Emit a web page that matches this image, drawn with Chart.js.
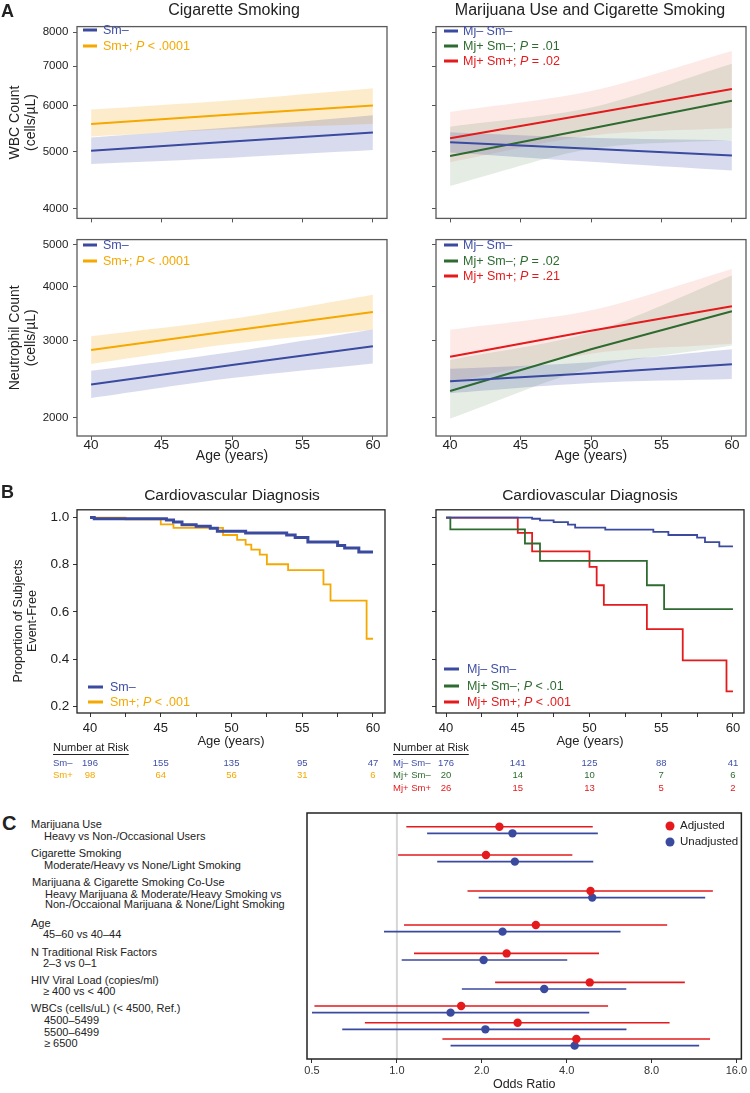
<!DOCTYPE html>
<html><head><meta charset="utf-8">
<script src="https://cdn.jsdelivr.net/npm/chart.js@4.4.1/dist/chart.umd.min.js"></script>
<style>
html,body{margin:0;padding:0;background:#fff;}
#page{position:relative;width:750px;height:1093px;overflow:hidden;font-family:"Liberation Sans",Arial,Helvetica,sans-serif;color:#222;}
canvas{position:absolute;}
.t{position:absolute;white-space:nowrap;line-height:1;transform:translateY(-50%);}
.c{transform:translate(-50%,-50%);}
.b{font-weight:bold;}
.lg{position:absolute;white-space:nowrap;line-height:1;transform:translateY(-50%);font-size:12.5px;}
.sw{position:absolute;height:3px;transform:translateY(-50%);}
.fl{position:absolute;white-space:nowrap;line-height:1;transform:translateY(-50%);font-size:11px;color:#222;}
.dot{position:absolute;width:9px;height:9px;border-radius:50%;transform:translate(-50%,-50%);}
i{font-style:italic;}
</style></head><body><div id="page">
<canvas id="cA1"></canvas><canvas id="cA2"></canvas><canvas id="cA3"></canvas><canvas id="cA4"></canvas>
<canvas id="cB1"></canvas><canvas id="cB2"></canvas><canvas id="cC"></canvas>

<div class="t b" style="left:1px;top:11px;font-size:18px">A</div>
<div class="t c" style="left:234px;top:10px;font-size:16px">Cigarette Smoking</div>
<div class="t c" style="left:590px;top:10px;font-size:16px">Marijuana Use and Cigarette Smoking</div>

<div class="sw" style="left:83px;top:30px;width:14px;background:#3a4a9f"></div>
<div class="lg" style="left:103px;top:30px;color:#3f4fa5">Sm–</div>
<div class="sw" style="left:83px;top:45.5px;width:14px;background:#f5a800"></div>
<div class="lg" style="left:103px;top:45.5px;color:#f5a800">Sm+; <i>P</i> &lt; .0001</div>

<div class="sw" style="left:444px;top:31px;width:14px;background:#3a4a9f"></div>
<div class="lg" style="left:463px;top:31px;color:#3f4fa5">Mj– Sm–</div>
<div class="sw" style="left:444px;top:46px;width:14px;background:#2e6b30"></div>
<div class="lg" style="left:463px;top:46px;color:#2e6b30">Mj+ Sm–; <i>P</i> = .01</div>
<div class="sw" style="left:444px;top:61px;width:14px;background:#e41a1c"></div>
<div class="lg" style="left:463px;top:61px;color:#e41a1c">Mj+ Sm+; <i>P</i> = .02</div>

<div class="sw" style="left:83px;top:245px;width:14px;background:#3a4a9f"></div>
<div class="lg" style="left:103px;top:245px;color:#3f4fa5">Sm–</div>
<div class="sw" style="left:83px;top:260.5px;width:14px;background:#f5a800"></div>
<div class="lg" style="left:103px;top:260.5px;color:#f5a800">Sm+; <i>P</i> &lt; .0001</div>

<div class="sw" style="left:444px;top:245px;width:14px;background:#3a4a9f"></div>
<div class="lg" style="left:463px;top:245px;color:#3f4fa5">Mj– Sm–</div>
<div class="sw" style="left:444px;top:260.5px;width:14px;background:#2e6b30"></div>
<div class="lg" style="left:463px;top:260.5px;color:#2e6b30">Mj+ Sm–; <i>P</i> = .02</div>
<div class="sw" style="left:444px;top:276px;width:14px;background:#e41a1c"></div>
<div class="lg" style="left:463px;top:276px;color:#e41a1c">Mj+ Sm+; <i>P</i> = .21</div>

<div class="t b" style="left:1px;top:492px;font-size:18px">B</div>
<div class="t c" style="left:232px;top:495px;font-size:15.5px">Cardiovascular Diagnosis</div>
<div class="t c" style="left:590px;top:495px;font-size:15.5px">Cardiovascular Diagnosis</div>
<div style="position:absolute;left:25px;top:621px;transform:translate(-50%,-50%) rotate(-90deg);white-space:nowrap;text-align:center;font-size:12.5px;line-height:13.5px;">Proportion of Subjects<br>Event-Free</div>

<div class="sw" style="left:88px;top:687px;width:15px;background:#3a4a9f"></div>
<div class="lg" style="left:110px;top:687px;color:#3f4fa5">Sm–</div>
<div class="sw" style="left:88px;top:702px;width:15px;background:#f5a800"></div>
<div class="lg" style="left:110px;top:702px;color:#f5a800">Sm+; <i>P</i> &lt; .001</div>

<div class="sw" style="left:444px;top:669px;width:15px;background:#3a4a9f"></div>
<div class="lg" style="left:467px;top:669px;color:#3f4fa5">Mj– Sm–</div>
<div class="sw" style="left:444px;top:686px;width:15px;background:#2e6b30"></div>
<div class="lg" style="left:467px;top:686px;color:#2e6b30">Mj+ Sm–; <i>P</i> &lt; .01</div>
<div class="sw" style="left:444px;top:702px;width:15px;background:#e41a1c"></div>
<div class="lg" style="left:467px;top:702px;color:#e41a1c">Mj+ Sm+; <i>P</i> &lt; .001</div>

<div class="t b" style="left:2px;top:823px;font-size:20px">C</div>
<div class="fl" style="left:31px;top:824px">Marijuana Use</div>
<div class="fl" style="left:44px;top:835.7px">Heavy vs Non-/Occasional Users</div>
<div class="fl" style="left:31px;top:853.3px">Cigarette Smoking</div>
<div class="fl" style="left:44px;top:864.7px">Moderate/Heavy vs None/Light Smoking</div>
<div class="fl" style="left:32px;top:882.3px">Marijuana &amp; Cigarette Smoking Co-Use</div>
<div class="fl" style="left:45px;top:894px">Heavy Marijuana &amp; Moderate/Heavy Smoking vs</div>
<div class="fl" style="left:45px;top:904px">Non-/Occaional Marijuana &amp; None/Light Smoking</div>
<div class="fl" style="left:31px;top:923.3px">Age</div>
<div class="fl" style="left:43px;top:934.3px">45–60 vs 40–44</div>
<div class="fl" style="left:31px;top:951.7px">N Traditional Risk Factors</div>
<div class="fl" style="left:43px;top:962.7px">2–3 vs 0–1</div>
<div class="fl" style="left:31px;top:980px">HIV Viral Load (copies/ml)</div>
<div class="fl" style="left:43px;top:991px">≥ 400 vs &lt; 400</div>
<div class="fl" style="left:31px;top:1008.3px">WBCs (cells/uL) (&lt; 4500, Ref.)</div>
<div class="fl" style="left:44px;top:1020px">4500–5499</div>
<div class="fl" style="left:44px;top:1031.7px">5500–6499</div>
<div class="fl" style="left:44px;top:1043.3px">≥ 6500</div>

<div class="dot" style="left:670px;top:826px;background:#e41a1c"></div>
<div class="fl" style="left:680px;top:826px;font-size:11.5px">Adjusted</div>
<div class="dot" style="left:670px;top:841.5px;background:#3a4a9f"></div>
<div class="fl" style="left:680px;top:841.5px;font-size:11.5px">Unadjusted</div>
</div>
<script>
// ================= DATA =================
const ageGrid = [40, 50, 60];
const ageTicksA = [40, 45, 50, 55, 60];
const wbcTicks = [4000, 5000, 6000, 7000, 8000];
const neuTicks = [2000, 3000, 4000, 5000];

// Panel A: WBC count (cells/uL), fitted line and 95% band at ages 40/50/60
const wbcSmNeg   = [5020, 5208, 5395];
const wbcSmNegHi = [5292, 5506, 5774];
const wbcSmNegLo = [4768, 4888, 5036];
const wbcSmPos   = [5580, 5790, 6000];
const wbcSmPosHi = [5905, 6126, 6420];
const wbcSmPosLo = [5313, 5472, 5580];
const wbcMjNegSmNeg   = [5194, 5060, 4930];
const wbcMjNegSmNegHi = [5400, 5285, 5230];
const wbcMjNegSmNegLo = [4990, 4810, 4646];
const wbcMjPosSmNeg   = [4920, 5480, 6110];
const wbcMjPosSmNegHi = [5521, 5950, 7069];
const wbcMjPosSmNegLo = [4374, 5060, 5239];
const wbcMjPosSmPos   = [5275, 5810, 6403];
const wbcMjPosSmPosHi = [5850, 6350, 7433];
const wbcMjPosSmPosLo = [4800, 5330, 5490];

// Panel A: neutrophil count (cells/uL)
const neuSmNeg   = [2380, 2639, 2917];
const neuSmNegHi = [2559, 2829, 3185];
const neuSmNegLo = [2215, 2463, 2662];
const neuSmPos   = [2858, 3165, 3496];
const neuSmPosHi = [3072, 3372, 3832];
const neuSmPosLo = [2655, 2953, 3181];
const neuMjNegSmNeg   = [2422, 2528, 2649];
const neuMjNegSmNegHi = [2587, 2680, 2869];
const neuMjNegSmNegLo = [2274, 2400, 2450];
const neuMjPosSmNeg   = [2300, 2870, 3510];
const neuMjPosSmNegHi = [2710, 3138, 4242];
const neuMjPosSmNegLo = [1987, 2594, 2927];
const neuMjPosSmPos   = [2757, 3165, 3602];
const neuMjPosSmPosHi = [3181, 3528, 4392];
const neuMjPosSmPosLo = [2400, 2803, 2953];

// Panel B: Kaplan-Meier event-free proportion (age, survival)
const kmTicks = [40, 42.5, 45, 47.5, 50, 52.5, 55, 57.5, 60];
const kmYTicks = [0.2, 0.4, 0.6, 0.8, 1.0];
const kmSmNegT = [40, 40.3, 45.4, 45.9, 46.5, 47.5, 48.5, 49.0, 51.0, 53.9, 54.5, 55.4, 57.5, 58.0, 59.0, 60.0];
const kmSmNegS = [1.0, 0.995, 0.99, 0.981, 0.97, 0.963, 0.955, 0.942, 0.935, 0.926, 0.915, 0.896, 0.882, 0.871, 0.854, 0.854];
const kmSmPosT = [40, 42.5, 45.0, 45.9, 49.4, 50.4, 51.0, 51.4, 52.0, 52.5, 54.0, 56.5, 57.0, 59.55, 60.0];
const kmSmPosS = [1.0, 0.992, 0.971, 0.956, 0.926, 0.905, 0.885, 0.864, 0.843, 0.802, 0.777, 0.717, 0.648, 0.486, 0.486];
const kmMjNegSmNegT = [40, 46.0, 46.55, 47.5, 48.5, 49.0, 51.1, 54.45, 55.5, 57.5, 58.05, 59.05, 60.0];
const kmMjNegSmNegS = [1.0, 0.995, 0.988, 0.981, 0.97, 0.957, 0.949, 0.939, 0.926, 0.915, 0.896, 0.878, 0.878];
const kmMjPosSmNegT = [40, 40.3, 45.5, 46.55, 54.0, 55.2, 60.0];
const kmMjPosSmNegS = [1.0, 0.95, 0.89, 0.816, 0.713, 0.612, 0.612];
const kmMjPosSmPosT = [40, 45.0, 46.0, 50.0, 50.5, 51.0, 54.0, 56.5, 59.55, 60.0];
const kmMjPosSmPosS = [1.0, 0.935, 0.857, 0.791, 0.713, 0.63, 0.527, 0.394, 0.263, 0.263];

// Number at risk
const riskAges = [40, 45, 50, 55, 60];
const riskSmNeg = [196, 155, 135, 95, 47];
const riskSmPos = [98, 64, 56, 31, 6];
const riskMjNegSmNeg = [176, 141, 125, 88, 41];
const riskMjPosSmNeg = [20, 14, 10, 7, 6];
const riskMjPosSmPos = [26, 15, 13, 5, 2];

// Panel C: odds ratios
const orTicks = [0.5, 1, 2, 4, 8, 16];
const orAdj     = [2.31, 2.07, 4.86, 3.11, 2.45, 4.83, 1.69, 2.68, 4.33];
const orAdjLo   = [1.08, 1.01, 1.78, 1.06, 1.15, 2.23, 0.51, 0.77, 1.45];
const orAdjHi   = [4.95, 4.19, 13.2, 9.09, 5.21, 10.5, 5.61, 9.27, 12.9];
const orUnadj   = [2.57, 2.62, 4.93, 2.37, 2.03, 3.33, 1.55, 2.06, 4.27];
const orUnadjLo = [1.28, 1.39, 1.95, 0.90, 1.04, 1.70, 0.50, 0.64, 1.55];
const orUnadjHi = [5.16, 4.97, 12.4, 6.21, 4.02, 6.51, 4.81, 6.52, 11.8];

// ================= LAYOUT / STYLE =================
const FONT = '"Liberation Sans", Arial, Helvetica, sans-serif';
Chart.defaults.font.family = FONT;
Chart.defaults.color = '#222';
const COL = {blue:'#3a4a9f', orange:'#f5a800', green:'#2e6b30', red:'#e41a1c'};
const TXT = {blue:'#3f4fa5', orange:'#f5a800', green:'#2e6b30', red:'#e41a1c'};
const BAND = {blue:'rgba(60,74,165,0.2)', orange:'rgba(248,170,20,0.22)', green:'rgba(46,107,48,0.13)', red:'rgba(240,90,70,0.13)'};
// vertical slot of each odds-ratio comparison (row units) and adjusted/unadjusted offset
const forestRows = [1, 2.068, 3.426, 4.709, 5.781, 6.875, 7.766, 8.396, 9.011];
const pairOffset = 0.125;

const framePlugin = {
  id: 'frame',
  afterDatasetsDraw(chart, args, o) {
    const {ctx, chartArea: a} = chart;
    ctx.save(); ctx.strokeStyle = o.color || '#555'; ctx.lineWidth = o.width || 1;
    ctx.strokeRect(a.left, a.top, a.right - a.left, a.bottom - a.top);
    ctx.restore();
  }
};
const refLinePlugin = {
  id: 'refLine',
  beforeDatasetsDraw(chart, args, o) {
    if (o.value === undefined) return;
    const {ctx, chartArea: a} = chart;
    const x = chart.scales.x.getPixelForValue(o.value);
    ctx.save(); ctx.strokeStyle = o.color; ctx.lineWidth = o.width;
    ctx.beginPath(); ctx.moveTo(x, a.top); ctx.lineTo(x, a.bottom); ctx.stroke(); ctx.restore();
  }
};
const riskPlugin = {
  id: 'risk',
  afterDraw(chart, args, o) {
    if (!o.rows) return;
    const ctx = chart.ctx, xs = chart.scales.x;
    ctx.save();
    ctx.textBaseline = 'middle';
    ctx.font = '11px ' + FONT; ctx.fillStyle = '#222'; ctx.textAlign = 'left';
    const hx = o.labelX - o.ox, hy = o.headerY - o.oy;
    ctx.fillText('Number at Risk', hx, hy);
    ctx.fillRect(hx, hy + 6, ctx.measureText('Number at Risk').width, 1);
    ctx.font = '9.5px ' + FONT;
    o.rows.forEach(r => {
      ctx.fillStyle = r.color; ctx.textAlign = 'left';
      ctx.fillText(r.label, hx, r.y - o.oy);
      ctx.textAlign = 'center';
      riskAges.forEach((a, j) => ctx.fillText(String(r.values[j]), xs.getPixelForValue(a), r.y - o.oy));
    });
    ctx.restore();
  }
};
Chart.register(framePlugin, refLinePlugin, riskPlugin);

function build(id, box, plot, xH, config) {
  const cv = document.getElementById(id);
  cv.width = box.w; cv.height = box.h;
  Object.assign(cv.style, {left: box.x + 'px', top: box.y + 'px', width: box.w + 'px', height: box.h + 'px'});
  const o = config.options;
  o.responsive = false; o.animation = false; o.devicePixelRatio = 1;
  o.layout = {padding: {left: 0, top: plot.t - box.y, right: box.x + box.w - plot.r, bottom: box.y + box.h - plot.b - xH}};
  o.scales.x.afterFit = s => { s.height = xH; };
  o.scales.y.afterFit = s => { s.width = plot.l - box.x; };
  o.plugins = Object.assign({legend: {display: false}, tooltip: {enabled: false}}, o.plugins || {});
  return new Chart(cv, config);
}
const pts = (xs, ys) => xs.map((x, i) => ({x, y: ys[i]}));
const tickGrid = c => ({drawOnChartArea: false, drawTicks: true, tickLength: 4, tickColor: c, tickWidth: 1});

function panelA(id, box, plot, xH, yMin, yMax, yTicks, showY, yTitle, showX, series) {
  const ds = [];
  series.forEach(s => ds.push({data: pts(ageGrid, s.line), borderColor: COL[s.c], borderWidth: 2, pointRadius: 0, fill: false, tension: 0}));
  series.forEach(s => {
    ds.push({data: pts(ageGrid, s.hi), borderWidth: 0, borderColor: 'transparent', backgroundColor: BAND[s.c], pointRadius: 0, fill: '+1', tension: 0.3});
    ds.push({data: pts(ageGrid, s.lo), borderWidth: 0, borderColor: 'transparent', pointRadius: 0, fill: false, tension: 0.3});
  });
  return build(id, box, plot, xH, {
    type: 'line', data: {datasets: ds},
    options: {
      plugins: {filler: {drawTime: 'beforeDatasetsDraw'}, frame: {color: '#5a5a5a', width: 1.3}},
      scales: {
        x: {type: 'linear', min: 39, max: 61,
            afterBuildTicks: s => { s.ticks = ageTicksA.map(v => ({value: v})); },
            ticks: {callback: v => showX ? String(v) : '', font: {size: 13.5, lineHeight: 1}, padding: -1.5, maxRotation: 0, autoSkip: false, color: '#222'},
            grid: tickGrid('#555'), border: {display: false},
            title: {display: showX, text: 'Age (years)', font: {size: 14}, color: '#222', padding: {top: 0, bottom: 1.6}}},
        y: {type: 'logarithmic', min: yMin, max: yMax,
            afterBuildTicks: s => { s.ticks = yTicks.map(v => ({value: v})); },
            ticks: {callback: v => showY ? String(v) : '', font: {size: 11.5}, padding: 4.7, color: '#222', autoSkip: false},
            grid: tickGrid('#555'), border: {display: false},
            title: {display: !!yTitle, text: yTitle || '', font: {size: 14, lineHeight: 1.15}, color: '#222', padding: {top: 6.8, bottom: 0}}}
      }
    }
  });
}

const wbcY = [3850, 8180], neuY = [1812, 5130];
panelA('cA1', {x:0, y:15, w:392, h:215}, {l:77, t:23, r:387, b:222}, 8, wbcY[0], wbcY[1], wbcTicks, true, ['WBC Count', '(cells/µL)'], false, [
  {c:'blue', line: wbcSmNeg, hi: wbcSmNegHi, lo: wbcSmNegLo},
  {c:'orange', line: wbcSmPos, hi: wbcSmPosHi, lo: wbcSmPosLo}]);
panelA('cA2', {x:392, y:15, w:358, h:215}, {l:436, t:23, r:746, b:222}, 8, wbcY[0], wbcY[1], wbcTicks, false, null, false, [
  {c:'blue', line: wbcMjNegSmNeg, hi: wbcMjNegSmNegHi, lo: wbcMjNegSmNegLo},
  {c:'green', line: wbcMjPosSmNeg, hi: wbcMjPosSmNegHi, lo: wbcMjPosSmNegLo},
  {c:'red', line: wbcMjPosSmPos, hi: wbcMjPosSmPosHi, lo: wbcMjPosSmPosLo}]);
panelA('cA3', {x:0, y:228, w:392, h:245}, {l:77, t:235, r:387, b:436}, 30, neuY[0], neuY[1], neuTicks, true, ['Neutrophil Count', '(cells/µL)'], true, [
  {c:'blue', line: neuSmNeg, hi: neuSmNegHi, lo: neuSmNegLo},
  {c:'orange', line: neuSmPos, hi: neuSmPosHi, lo: neuSmPosLo}]);
panelA('cA4', {x:392, y:228, w:358, h:245}, {l:436, t:235, r:746, b:436}, 30, neuY[0], neuY[1], neuTicks, false, null, true, [
  {c:'blue', line: neuMjNegSmNeg, hi: neuMjNegSmNegHi, lo: neuMjNegSmNegLo},
  {c:'green', line: neuMjPosSmNeg, hi: neuMjPosSmNegHi, lo: neuMjPosSmNegLo},
  {c:'red', line: neuMjPosSmPos, hi: neuMjPosSmPosHi, lo: neuMjPosSmPosLo}]);

function panelKM(id, box, plot, xMin, xMax, showY, series, risk) {
  return build(id, box, plot, 37, {
    type: 'line',
    data: {datasets: series.map(s => ({data: pts(s.t, s.s), borderColor: COL[s.c], borderWidth: s.w, stepped: true, pointRadius: 0, fill: false}))},
    options: {
      plugins: {frame: {color: '#222', width: 1.3}, risk},
      scales: {
        x: {type: 'linear', min: xMin, max: xMax,
            afterBuildTicks: s => { s.ticks = kmTicks.map(v => ({value: v})); },
            ticks: {callback: v => (v % 5 === 0 ? String(v) : ''), font: {size: 13, lineHeight: 1}, padding: 5.2, maxRotation: 0, autoSkip: false, color: '#222'},
            grid: tickGrid('#333'), border: {display: false},
            title: {display: true, text: 'Age (years)', font: {size: 13}, color: '#222', padding: {top: 0, bottom: 0.7}}},
        y: {type: 'linear', min: 0.171, max: 1.033,
            afterBuildTicks: s => { s.ticks = kmYTicks.map(v => ({value: v})); },
            ticks: {callback: v => showY ? v.toFixed(1) : '', font: {size: 13.5}, padding: 3.7, color: '#222', autoSkip: false},
            grid: tickGrid('#333'), border: {display: false}}
      }
    }
  });
}
panelKM('cB1', {x:0, y:498, w:392, h:300}, {l:77, t:504, r:385, b:713}, 39.08, 60.85, true, [
  {t: kmSmNegT, s: kmSmNegS, c: 'blue', w: 3},
  {t: kmSmPosT, s: kmSmPosS, c: 'orange', w: 1.8}],
  {ox: 0, oy: 498, labelX: 53, headerY: 748, rows: [
    {label: 'Sm–', color: TXT.blue, values: riskSmNeg, y: 763},
    {label: 'Sm+', color: TXT.orange, values: riskSmPos, y: 775.5}]});
panelKM('cB2', {x:392, y:498, w:358, h:300}, {l:436, t:505, r:744, b:713}, 39.3, 60.77, false, [
  {t: kmMjNegSmNegT, s: kmMjNegSmNegS, c: 'blue', w: 1.8},
  {t: kmMjPosSmNegT, s: kmMjPosSmNegS, c: 'green', w: 1.8},
  {t: kmMjPosSmPosT, s: kmMjPosSmPosS, c: 'red', w: 1.8}],
  {ox: 392, oy: 498, labelX: 393, headerY: 748, rows: [
    {label: 'Mj– Sm–', color: TXT.blue, values: riskMjNegSmNeg, y: 763},
    {label: 'Mj+ Sm–', color: TXT.green, values: riskMjPosSmNeg, y: 775.5},
    {label: 'Mj+ Sm+', color: TXT.red, values: riskMjPosSmPos, y: 788}]});

const ciData = (lo, hi, off) => forestRows.flatMap((r, i) => [{x: lo[i], y: r + off}, {x: hi[i], y: r + off}, {x: hi[i], y: null}]);
const dotData = (v, off) => forestRows.map((r, i) => ({x: v[i], y: r + off}));
build('cC', {x:300, y:805, w:450, h:288}, {l:307, t:813, r:744, b:1059}, 34, {
  type: 'line',
  data: {datasets: [
    {data: dotData(orAdj, -pairOffset), showLine: false, pointRadius: 4.2, pointBackgroundColor: COL.red, pointBorderWidth: 0, borderColor: COL.red},
    {data: dotData(orUnadj, pairOffset), showLine: false, pointRadius: 4.2, pointBackgroundColor: COL.blue, pointBorderWidth: 0, borderColor: COL.blue},
    {data: ciData(orAdjLo, orAdjHi, -pairOffset), borderColor: COL.red, borderWidth: 1.6, pointRadius: 0, spanGaps: false, fill: false},
    {data: ciData(orUnadjLo, orUnadjHi, pairOffset), borderColor: COL.blue, borderWidth: 1.6, pointRadius: 0, spanGaps: false, fill: false}
  ]},
  options: {
    plugins: {frame: {color: '#222', width: 1.5}, refLine: {value: 1, color: '#d6d6d6', width: 2}},
    scales: {
      x: {type: 'logarithmic', min: 0.48, max: 16.66,
          afterBuildTicks: s => { s.ticks = orTicks.map(v => ({value: v})); },
          ticks: {callback: v => Number(v).toFixed(1), font: {size: 11, lineHeight: 1}, padding: 2.8, color: '#333', autoSkip: false, maxRotation: 0},
          grid: tickGrid('#333'), border: {display: false},
          title: {display: true, text: 'Odds Ratio', font: {size: 12.5}, color: '#222', padding: {top: 0, bottom: 0.5}}},
      y: {type: 'linear', reverse: true, min: 0.358, max: 9.64, ticks: {display: false}, grid: {display: false}, border: {display: false}}
    }
  }
});
</script>
</body></html>
